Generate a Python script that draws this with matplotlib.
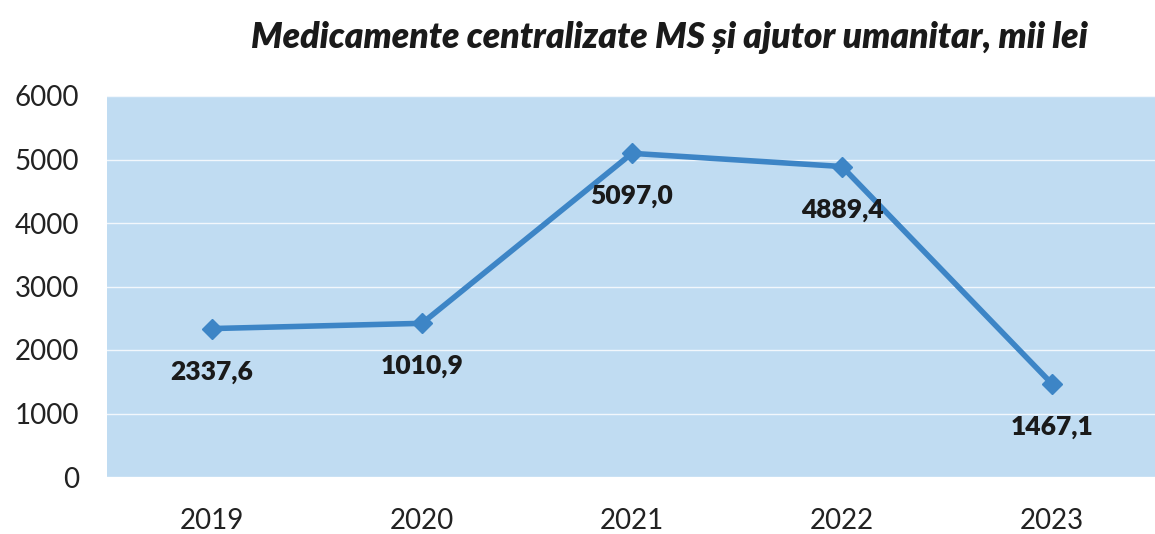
import matplotlib
matplotlib.use("Agg")
import matplotlib.pyplot as plt

years = ["2019", "2020", "2021", "2022", "2023"]
values = [2337.6, 2420.0, 5097.0, 4889.4, 1467.1]
value_labels = ["2337,6", "1010,9", "5097,0", "4889,4", "1467,1"]
yticks = [0, 1000, 2000, 3000, 4000, 5000, 6000]
title = "Medicamente centralizate MS și ajutor umanitar, mii lei"

plt.rcParams['font.family'] = ['Lato', 'DejaVu Sans']

fig = plt.figure(figsize=(11.55, 5.34), dpi=100)
ax = fig.add_axes([107/1155, 57/534, 1050/1155, 381/534])
ax.set_facecolor('#c0dcf2')
for s in ax.spines.values():
    s.set_visible(False)

x = list(range(len(years)))
ax.plot(x, values, color='#3d85c6', lw=4.0, marker='D', ms=10, zorder=3)
for xi, v, lab in zip(x, values, value_labels):
    ax.annotate(lab, (xi, v), xytext=(0, -43), textcoords='offset pixels',
                ha='center', va='center', fontsize=19, fontweight='heavy', color='#1a1a1a')

ax.set_xlim(-0.5, len(years) - 0.5)
ax.set_ylim(0, 6000)
ax.set_yticks(yticks)
ax.set_yticklabels([str(t) for t in yticks])
ax.set_xticks(x)
ax.set_xticklabels(years)
ax.grid(axis='y', color='white', lw=1.0, alpha=0.8)
ax.set_axisbelow(True)
ax.tick_params(axis='both', length=0, labelsize=20, colors='#222222')
ax.tick_params(axis='y', pad=20)
ax.tick_params(axis='x', pad=22)

fig.text(669/1155, 1 - 38/534, title, ha='center', va='center', fontsize=25.5,
         fontweight='heavy', fontstyle='italic', color='#1a1a1a')

fig.savefig('out.png', dpi=100, facecolor='white')
